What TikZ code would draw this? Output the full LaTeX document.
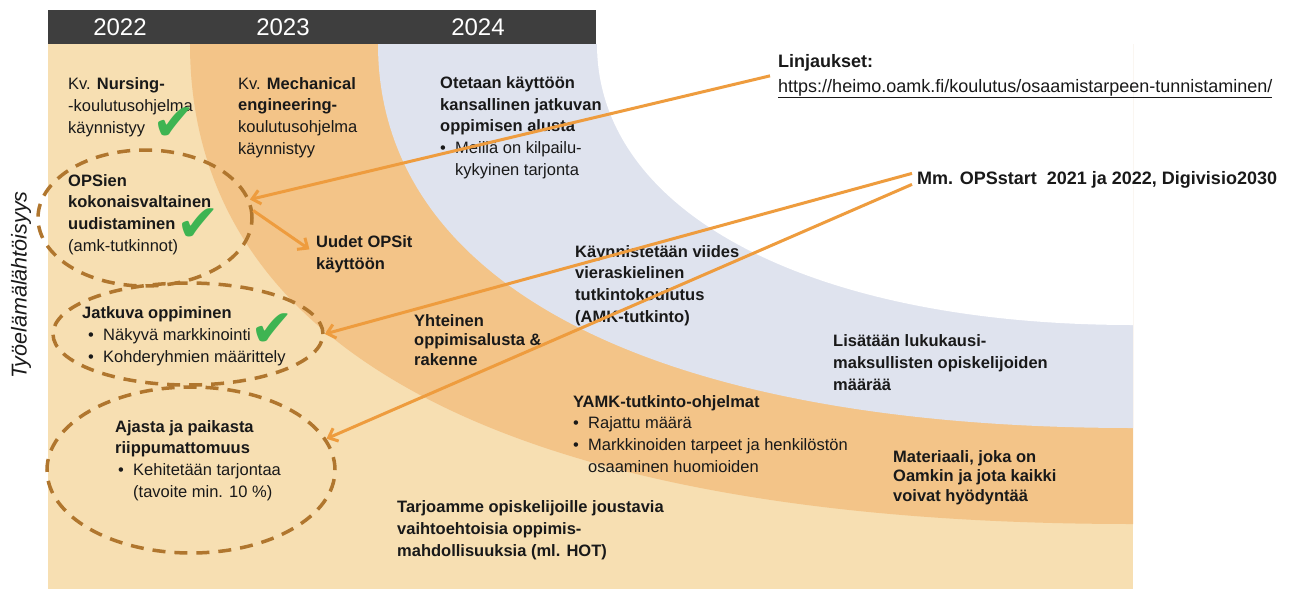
\documentclass[tikz,border=0pt]{standalone}
\usepackage{fontspec}
\setmainfont{Liberation Sans}
\newfontfamily\dejavu{DejaVu Sans}
\usetikzlibrary{arrows.meta,shapes.geometric}
\definecolor{hdrgray}{RGB}{62,62,62}
\definecolor{peach}{RGB}{247,223,178}
\definecolor{bandorange}{RGB}{243,196,136}
\definecolor{bandblue}{RGB}{223,227,238}
\definecolor{ringbrown}{RGB}{176,118,46}
\definecolor{arroworange}{RGB}{238,156,62}
\definecolor{okgreen}{RGB}{62,180,82}
\definecolor{txtdark}{RGB}{25,25,25}
\newcommand{\bul}{\makebox[15pt][l]{\textbullet}}
\newcommand{\ind}{\hspace*{15pt}}

\begin{document}
\begin{tikzpicture}[x=1pt,y=-1pt,
  txt/.style={anchor=base west,align=left,inner sep=0pt,text=txtdark,font=\fontsize{16.5}{21.6}\selectfont},
  tight/.style={txt,font=\fontsize{16.5}{19.2}\selectfont},
  side/.style={txt,font=\fontsize{18}{25}\selectfont},
  year/.style={text=white,inner sep=0pt,font=\fontsize{24}{24}\selectfont},
  ring/.style={ellipse,draw=ringbrown,line width=3.5pt,dash pattern=on 13pt off 9pt,inner sep=0pt},
  link/.style={draw=arroworange,line width=3pt,-{Straight Barb[length=8pt,width=14pt]}},
  ok/.style={text=okgreen,inner sep=0pt,font=\dejavu\fontsize{52}{52}\selectfont}]
  \useasboundingbox (0,0) rectangle (1303,589);

  % time bands
  \fill[peach] (48,44) rectangle (1133,589);
  \fill[bandorange] (190,44) .. controls (190,356) and (520,524) .. (1133,524) -- (1133,44) -- cycle;
  \fill[bandblue] (378,44) .. controls (378,286) and (657,428) .. (1133,428) -- (1133,44) -- cycle;
  \fill[white] (597,44) .. controls (597,213) and (811,325) .. (1133,325) -- (1133,44) -- cycle;
  \fill[hdrgray] (48,10) rectangle (596,44);
  \node[year] (y22) at (120,27) {2022};
  \node[year] (y23) at (283,27) {2023};
  \node[year] (y24) at (478,27) {2024};

  \node[rotate=90,inner sep=0pt,text=txtdark,font=\itshape\fontsize{21.5}{22}\selectfont] (tyoel) at (21,285) {Työelämälähtöisyys};

  % dashed groups
  \node[ring,minimum width=214pt,minimum height=136pt] (opsE) at (145,218) {};
  \node[ring,minimum width=270pt,minimum height=102pt] (jatkE) at (188,334) {};
  \node[ring,minimum width=288pt,minimum height=166pt] (ajasE) at (191,470) {};

  % texts, placed by the baseline of their last line
  \node[txt] (nurs) at (68,133) {Kv. \textbf{Nursing-}\\-koulutusohjelma\\käynnistyy};
  \node[txt] (mech) at (238,154) {Kv. \textbf{Mechanical}\\\textbf{engineering-}\\koulutusohjelma\\käynnistyy};
  \node[txt] (otet) at (440,175) {\textbf{Otetaan käyttöön}\\\textbf{kansallinen jatkuvan}\\\textbf{oppimisen alusta}\\\bul Meillä on kilpailu-\\\ind kykyinen tarjonta};
  \node[txt] (opsien) at (68,251) {\textbf{OPSien}\\\textbf{kokonaisvaltainen}\\\textbf{uudistaminen}\\(amk-tutkinnot)};
  \node[txt] (uudet) at (316,269) {\textbf{Uudet OPSit}\\\textbf{käyttöön}};
  \node[txt] (jatk) at (82,362) {\textbf{Jatkuva oppiminen}\\\hspace*{6pt}\bul Näkyvä markkinointi\\\hspace*{6pt}\bul Kohderyhmien määrittely};
  \node[txt] (ajas) at (115,497) {\textbf{Ajasta ja paikasta}\\\textbf{riippumattomuus}\\\hspace*{3pt}\bul Kehitetään tarjontaa\\\hspace*{3pt}\ind (tavoite min. 10 \%)};
  \node[tight] (yht) at (414,365) {\textbf{Yhteinen}\\\textbf{oppimisalusta \&}\\\textbf{rakenne}};
  \node[txt] (kayn) at (575,322) {\textbf{Käynnistetään viides}\\\textbf{vieraskielinen}\\\textbf{tutkintokoulutus}\\\textbf{(AMK-tutkinto)}};
  \node[txt] (lisa) at (833,390) {\textbf{Lisätään lukukausi-}\\\textbf{maksullisten opiskelijoiden}\\\textbf{määrää}};
  \node[txt] (yamk) at (573,472) {\textbf{YAMK-tutkinto-ohjelmat}\\\bul Rajattu määrä\\\bul Markkinoiden tarpeet ja henkilöstön\\\ind osaaminen huomioiden};
  \node[tight] (mate) at (893,501) {\textbf{Materiaali, joka on}\\\textbf{Oamkin ja jota kaikki}\\\textbf{voivat hyödyntää}};
  \node[txt] (tarj) at (397,556) {\textbf{Tarjoamme opiskelijoille joustavia}\\\textbf{vaihtoehtoisia oppimis-}\\\textbf{mahdollisuuksia (ml. HOT)}};

  % sources
  \node[side] (linj) at (778,92) {\textbf{Linjaukset:}\\\underline{https://heimo.oamk.fi/koulutus/osaamistarpeen-tunnistaminen/}};
  \node[side] (mm) at (917,184) {\textbf{Mm. OPSstart\ \ 2021 ja 2022, Digivisio2030}};

  \node[ok] (ok1) at (174,124) {✔};
  \node[ok] (ok2) at (198,225) {✔};
  \node[ok] (ok3) at (272,330) {✔};

  \draw[link] ([xshift=-8pt]linj.west) -- (opsE.10);
  \draw[link,shorten >=8pt] (opsE.4) -- (uudet.west);
  \draw[link] ([shift={(-5pt,6pt)}]mm.west) -- (jatkE.east);
  \draw[link] ([shift={(-5pt,-5pt)}]mm.west) -- (ajasE.13);
\end{tikzpicture}
\end{document}
